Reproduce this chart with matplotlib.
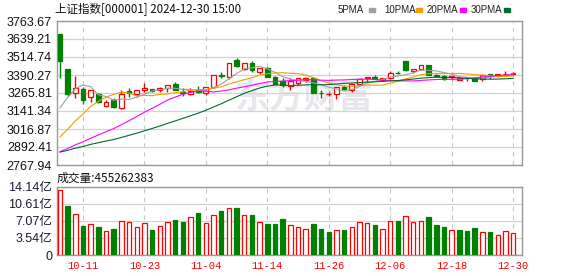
import matplotlib.pyplot as plt
import numpy as np
import pandas as pd

plt.rcParams['font.family'] = ['Liberation Sans', 'Noto Sans CJK SC']

# closes before the window (2024-08-19 .. 2024-09-30), needed for the moving averages
prior_close = [2893.67, 2866.66, 2856.58, 2848.77, 2854.37, 2855.52, 2848.73, 2837.43, 2823.11, 2842.21,
               2811.37, 2802.98, 2784.28, 2788.22, 2765.81, 2736.49, 2744.19, 2721.80, 2717.12, 2704.09,
               2717.28, 2736.02, 2736.81, 2748.92, 2863.13, 2896.31, 3000.95, 3087.53, 3336.50]

# 2024-10-08 .. 2024-12-30
opens = [3674.40, 3433.38, 3265.00, 3292.00, 3240.00, 3262.00, 3176.71, 3215.32, 3160.00, 3276.32,
         3256.20, 3290.00, 3293.34, 3285.00, 3297.80, 3331.07, 3275.87, 3258.46, 3284.78, 3267.56,
         3309.67, 3391.40, 3376.26, 3494.49, 3430.97, 3472.00, 3414.15, 3437.19, 3373.68, 3352.00,
         3316.63, 3336.95, 3356.52, 3370.11, 3266.00, 3258.00, 3256.54, 3306.57, 3288.43, 3328.02,
         3368.00, 3374.36, 3357.44, 3366.45, 3405.00, 3486.00, 3419.57, 3430.87, 3456.33, 3389.00,
         3386.70, 3375.00, 3356.96, 3367.21, 3368.18, 3365.00, 3395.00, 3389.37, 3395.86, 3399.92]
highs = [3674.40, 3433.38, 3382.00, 3305.00, 3289.00, 3268.00, 3217.77, 3228.95, 3290.00, 3300.00,
         3290.00, 3335.00, 3295.06, 3310.55, 3322.45, 3345.00, 3300.92, 3300.58, 3311.96, 3310.37,
         3387.29, 3413.30, 3471.98, 3509.84, 3471.30, 3489.74, 3439.28, 3444.82, 3385.60, 3366.52,
         3370.00, 3369.47, 3376.36, 3373.49, 3287.00, 3274.02, 3310.00, 3320.81, 3326.46, 3364.84,
         3379.46, 3391.34, 3369.29, 3419.99, 3417.26, 3490.00, 3434.29, 3462.23, 3459.58, 3396.83,
         3388.00, 3384.22, 3376.98, 3375.09, 3376.36, 3393.54, 3399.00, 3399.74, 3415.50, 3409.70]
lows = [3371.79, 3246.79, 3233.00, 3192.00, 3205.00, 3195.00, 3170.92, 3165.38, 3152.82, 3238.09,
        3241.28, 3275.98, 3270.87, 3274.30, 3274.57, 3286.37, 3248.31, 3252.19, 3267.39, 3253.05,
        3303.69, 3371.55, 3363.91, 3443.02, 3424.66, 3411.87, 3393.91, 3375.72, 3329.75, 3310.14,
        3287.84, 3323.19, 3343.32, 3265.91, 3232.11, 3246.46, 3227.60, 3285.66, 3275.04, 3320.76,
        3341.35, 3359.82, 3350.87, 3359.78, 3395.36, 3418.07, 3401.26, 3426.41, 3391.29, 3380.08,
        3354.73, 3355.46, 3353.16, 3347.05, 3347.81, 3350.00, 3364.81, 3379.88, 3386.14, 3387.12]
closes = [3489.78, 3258.86, 3301.93, 3217.74, 3284.32, 3201.29, 3202.95, 3169.38, 3261.56, 3268.11,
          3285.87, 3302.80, 3280.26, 3299.70, 3322.20, 3286.41, 3266.24, 3279.82, 3272.01, 3310.21,
          3386.99, 3383.81, 3470.66, 3452.30, 3470.07, 3421.97, 3439.28, 3379.84, 3330.73, 3323.85,
          3346.01, 3367.99, 3370.40, 3267.19, 3263.76, 3259.76, 3309.78, 3295.70, 3326.46, 3363.98,
          3378.81, 3364.65, 3368.86, 3404.08, 3402.53, 3422.66, 3432.49, 3461.50, 3391.88, 3386.33,
          3361.49, 3382.21, 3370.03, 3368.07, 3351.88, 3393.53, 3393.35, 3398.08, 3400.14, 3407.33]
# volume, in 亿
volumes = [13.43, 10.25, 8.48, 6.01, 6.36, 5.80, 5.09, 5.37, 7.00, 6.79,
           5.80, 6.58, 5.16, 5.94, 6.79, 7.28, 6.86, 7.85, 8.77, 6.58,
           8.27, 9.19, 9.76, 9.83, 8.27, 8.34, 6.79, 6.43, 6.43, 7.49,
           6.15, 5.78, 5.39, 6.51, 5.46, 4.83, 5.18, 5.18, 5.81, 6.86,
           6.65, 6.30, 5.39, 7.07, 7.07, 8.12, 6.86, 7.07, 7.98, 6.30,
           5.88, 5.18, 5.18, 5.04, 5.67, 4.76, 4.83, 4.13, 4.97, 4.55]

date_ticks = [3, 11, 19, 27, 35, 43, 51, 59]
date_labels = ['10-11', '10-23', '11-04', '11-14', '11-26', '12-06', '12-18', '12-30']
price_ticks = [2767.94, 2892.41, 3016.87, 3141.34, 3265.81, 3390.27, 3514.74, 3639.21, 3763.67]
vol_ticks = [0, 3.54, 7.07, 10.61, 14.14]
vol_labels = ['0', '3.54亿', '7.07亿', '10.61亿', '14.14亿']

ma_names = ['5PMA', '10PMA', '20PMA', '30PMA']
ma_windows = [5, 10, 20, 30]
ma_colors = ['#a0a0a0', '#f0a000', '#ff00ff', '#006b2e']

RED = '#ff0000'
GREEN = '#008000'

o = np.array(opens)
h = np.array(highs)
l = np.array(lows)
c = np.array(closes)
v = np.array(volumes)
x = np.arange(len(c))

all_close = pd.Series(prior_close + closes)
mas = [all_close.rolling(n).mean().iloc[len(prior_close):].values for n in ma_windows]

W, H = 578, 276
fig = plt.figure(figsize=(W / 100, H / 100), dpi=100)
ax = fig.add_axes([57 / W, 1 - 165 / H, 465 / W, 144 / H])
axv = fig.add_axes([57 / W, 1 - 255 / H, 465 / W, 68 / H])

for a in (ax, axv):
    a.set_xlim(-0.38, 60.16)
    a.set_axisbelow(True)
    a.set_xticks(date_ticks)
    a.grid(axis='x', color='#c8c8c8', linestyle=(0, (4, 4)), lw=0.8)
    a.grid(axis='y', color='#d2d2d2', lw=0.9)
    for s in a.spines.values():
        s.set_color('#999999')
        s.set_linewidth(1.0)
    a.tick_params(length=0)

# candles
up = c >= o
col = np.where(up, RED, GREEN)
ax.vlines(x, l, h, colors=col, lw=1.0, zorder=2)
body_bot = np.minimum(o, c)
body_h = np.maximum(np.abs(c - o), 1.5)
ax.bar(x, body_h, 0.62, bottom=body_bot, color=np.where(up, 'white', GREEN),
       edgecolor=col, lw=0.9, zorder=3)

for m, colr in zip(mas, ma_colors):
    ax.plot(x, m, color=colr, lw=0.8, zorder=4)

ax.set_ylim(price_ticks[0], price_ticks[-1])
ax.set_yticks(price_ticks)
ax.set_yticklabels([f'{t:.2f}' for t in price_ticks])
ax.tick_params(axis='y', labelsize=9, pad=3.5, labelcolor='#111111')
ax.set_xticklabels([])

ax.text(0.533, 0.47, '东方财富', transform=ax.transAxes, fontsize=25, color='#e8e8ec',
        weight='bold', style='italic', ha='center', va='center', zorder=0,
        family=['Noto Sans CJK SC'])

# volume, coloured by change from previous close
prev = np.array([prior_close[-1]] + closes[:-1])
vup = c >= prev
vcol = np.where(vup, RED, GREEN)
axv.bar(x, v, 0.58, color=np.where(vup, 'white', GREEN), edgecolor=vcol, lw=0.9, zorder=3)
axv.set_ylim(0, vol_ticks[-1])
axv.set_yticks(vol_ticks)
axv.set_yticklabels(vol_labels)
axv.tick_params(axis='y', labelsize=9, pad=3.5, labelcolor='#1a1a33')
axv.set_xticklabels(date_labels, color=RED, fontsize=7.5, family=['Liberation Mono'])
axv.tick_params(axis='x', pad=4)

# header and legend
fig.text(55 / W, 1 - 10 / H, '上证指数[000001] 2024-12-30 15:00', fontsize=8.3,
         family=['Noto Sans CJK SC'], va='center', color='#111111')
leg_text_x = [338, 384, 427, 471]
leg_box_x = [369, 416, 460, 504]
for name, colr, tx, bx in zip(ma_names, ma_colors, leg_text_x, leg_box_x):
    fig.text(tx / W, 1 - 10 / H, name, fontsize=7, va='center', color='#222222')
    fig.patches.append(plt.Rectangle((bx / W, 1 - 12 / H), 6 / W, 4 / H,
                                     transform=fig.transFigure, color=colr))

fig.text(57 / W, 1 - 178 / H, '成交量:455262383', fontsize=8.5, va='center', color='#111111',
         family=['Noto Sans CJK SC', 'Liberation Sans'])

fig.savefig('out.png', dpi=100)
